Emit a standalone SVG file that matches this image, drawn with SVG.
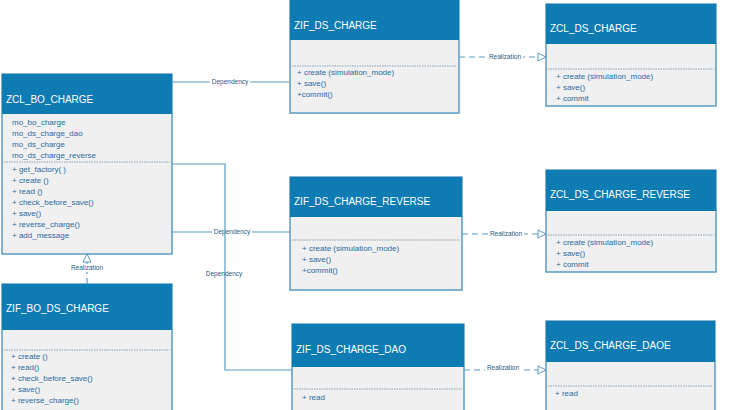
<svg xmlns="http://www.w3.org/2000/svg" width="730" height="410" viewBox="0 0 730 410">
<style>
.box{fill:#f0f0f0;stroke:#5a9cc4;stroke-width:1.5}
.hd{fill:#0f7bb3}
.ht{font-family:"Liberation Sans",Arial,sans-serif;font-size:10px;fill:#fff}
.t{font-family:"Liberation Sans",Arial,sans-serif;font-size:8px;fill:#2a6aa0}
.sep{stroke:#6a8aa0;stroke-width:0.8;stroke-dasharray:1.5 1}
.ln{fill:none;stroke:#5a9cc4;stroke-width:1.2}
.dl{fill:none;stroke:#5a9cc4;stroke-width:1.2;stroke-dasharray:6 4}
.lb{font-family:"Liberation Sans",Arial,sans-serif;font-size:6.5px;fill:#2a5a80;text-anchor:middle}
</style>
<defs>
<marker id="tri" markerWidth="10" markerHeight="10" refX="9" refY="5" orient="auto" markerUnits="userSpaceOnUse">
<path d="M1,1 L9,5 L1,9 Z" fill="#fff" stroke="#5a9cc4" stroke-width="1"/>
</marker>
</defs>
<rect width="730" height="410" fill="#fff"/>
<g id="connectors">
<path class="ln" d="M172,82 H290"/><rect x="210" y="78" width="40" height="8" fill="#fff"/><text class="lb" x="230" y="84">Dependency</text>
<path class="ln" d="M172,232 H290"/><rect x="212" y="228" width="40" height="8" fill="#fff"/><text class="lb" x="232" y="234">Dependency</text>
<path class="ln" d="M172,164 H225 V370 H292"/><text class="lb" x="224" y="276">Dependency</text>
<path class="dl" d="M87,284 V254" marker-end="url(#tri)"/><rect x="68" y="264" width="38" height="8" fill="#fff"/><text class="lb" x="87" y="270">Realization</text>
<path class="dl" d="M459,57 H546" marker-end="url(#tri)"/><rect x="487" y="53" width="36" height="8" fill="#fff"/><text class="lb" x="505" y="59">Realization</text>
<path class="dl" d="M462,234 H546" marker-end="url(#tri)"/><rect x="488" y="230" width="36" height="8" fill="#fff"/><text class="lb" x="506" y="236">Realization</text>
<path class="dl" d="M464,370 H546" marker-end="url(#tri)"/><rect x="485" y="366" width="36" height="8" fill="#fff"/><text class="lb" x="503" y="370">Realization</text>
</g>
<g id="ZCL_BO_CHARGE">
<rect class="box" x="2" y="74" width="170" height="180"/><rect class="hd" x="2" y="74" width="170" height="40"/>
<text class="ht" x="6" y="103">ZCL_BO_CHARGE</text>
<text class="t" x="12" y="125">mo_bo_charge</text><text class="t" x="12" y="136">mo_ds_charge_dao</text><text class="t" x="12" y="147">mo_ds_charge</text><text class="t" x="12" y="158">mo_ds_charge_reverse</text>
<line class="sep" x1="4" y1="162" x2="170" y2="162"/>
<text class="t" x="12" y="172">+ get_factory( )</text><text class="t" x="12" y="183">+ create ()</text><text class="t" x="12" y="194">+ read ()</text><text class="t" x="12" y="205">+ check_before_save()</text><text class="t" x="12" y="216">+ save()</text><text class="t" x="12" y="227">+ reverse_charge()</text><text class="t" x="12" y="238">+ add_message</text>
</g>
<g id="ZIF_BO_DS_CHARGE">
<rect class="box" x="2" y="284" width="170" height="130"/><rect class="hd" x="2" y="284" width="170" height="46"/>
<text class="ht" x="6" y="312">ZIF_BO_DS_CHARGE</text>
<line class="sep" x1="4" y1="350" x2="170" y2="350"/>
<text class="t" x="11" y="359">+ create ()</text><text class="t" x="11" y="370">+ read()</text><text class="t" x="11" y="381">+ check_before_save()</text><text class="t" x="11" y="392">+ save()</text><text class="t" x="11" y="403">+ reverse_charge()</text>
</g>
<g id="ZIF_DS_CHARGE">
<rect class="box" x="290" y="-2" width="169" height="115"/><rect class="hd" x="290" y="-2" width="169" height="42"/>
<text class="ht" x="294" y="29">ZIF_DS_CHARGE</text>
<line class="sep" x1="292" y1="66" x2="457" y2="66"/>
<text class="t" x="297" y="75">+ create (simulation_mode)</text><text class="t" x="297" y="86">+ save()</text><text class="t" x="297" y="97">+commit()</text>
</g>
<g id="ZCL_DS_CHARGE">
<rect class="box" x="546" y="4" width="170" height="102"/><rect class="hd" x="546" y="4" width="170" height="40"/>
<text class="ht" x="550" y="32">ZCL_DS_CHARGE</text>
<line class="sep" x1="548" y1="69" x2="714" y2="69"/>
<text class="t" x="556" y="79">+ create (simulation_mode)</text><text class="t" x="556" y="90">+ save()</text><text class="t" x="556" y="101">+ commit</text>
</g>
<g id="ZIF_DS_CHARGE_REVERSE">
<rect class="box" x="290" y="177" width="172" height="113"/><rect class="hd" x="290" y="177" width="172" height="40"/>
<text class="ht" x="294" y="205">ZIF_DS_CHARGE_REVERSE</text>
<line class="sep" x1="292" y1="240" x2="460" y2="240"/>
<text class="t" x="302" y="251">+ create (simulation_mode)</text><text class="t" x="302" y="262">+ save()</text><text class="t" x="302" y="273">+commit()</text>
</g>
<g id="ZCL_DS_CHARGE_REVERSE">
<rect class="box" x="546" y="170" width="170" height="102"/><rect class="hd" x="546" y="170" width="170" height="41"/>
<text class="ht" x="550" y="198">ZCL_DS_CHARGE_REVERSE</text>
<line class="sep" x1="548" y1="235" x2="714" y2="235"/>
<text class="t" x="556" y="245">+ create (simulation_mode)</text><text class="t" x="556" y="256">+ save()</text><text class="t" x="556" y="267">+ commit</text>
</g>
<g id="ZIF_DS_CHARGE_DAO">
<rect class="box" x="292" y="324" width="172" height="90"/><rect class="hd" x="292" y="324" width="172" height="43"/>
<text class="ht" x="296" y="353">ZIF_DS_CHARGE_DAO</text>
<line class="sep" x1="294" y1="389" x2="462" y2="389"/>
<text class="t" x="302" y="400">+ read</text>
</g>
<g id="ZCL_DS_CHARGE_DAOE">
<rect class="box" x="546" y="321" width="169" height="93"/><rect class="hd" x="546" y="321" width="169" height="41"/>
<text class="ht" x="550" y="349">ZCL_DS_CHARGE_DAOE</text>
<line class="sep" x1="548" y1="386" x2="713" y2="386"/>
<text class="t" x="555" y="396">+ read</text>
</g>
</svg>
